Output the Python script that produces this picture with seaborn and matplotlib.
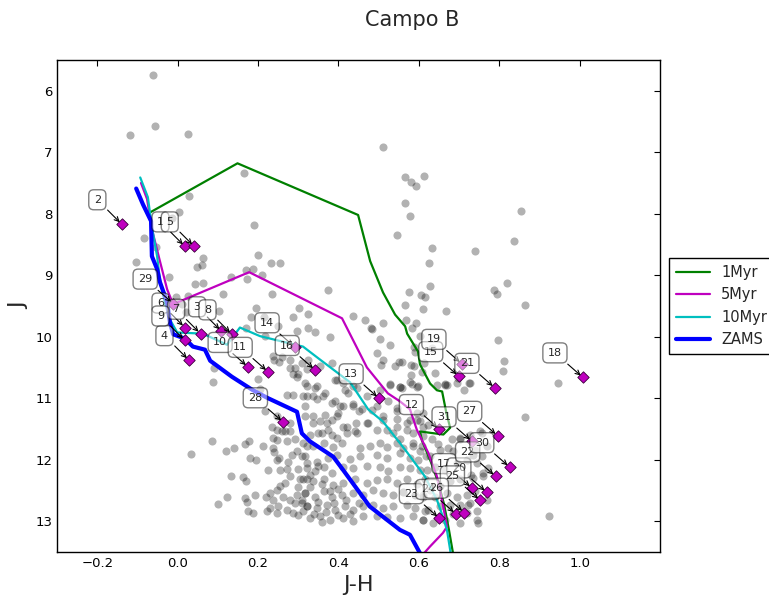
"""
Campo B - colour-magnitude diagram (J vs J-H) with isochrones
"""

import pandas as pd
import matplotlib
matplotlib.use("Agg")
import matplotlib.pyplot as plt
import seaborn as sns

sns.set_style("white")

# isochrones, (J-H, J) vertices
iso_1myr = [(-0.069, 7.98), (0.149, 7.18), (0.449, 8.02), (0.479, 8.77), (0.511, 9.28),
            (0.541, 9.64), (0.566, 9.83), (0.571, 9.95), (0.598, 10.24), (0.603, 10.45),
            (0.628, 10.76), (0.645, 10.87), (0.658, 10.89), (0.668, 11.22), (0.678, 11.48),
            (0.661, 11.59), (0.603, 11.54), (0.608, 11.69), (0.628, 12.00), (0.648, 12.36),
            (0.663, 12.73), (0.675, 13.14), (0.688, 13.63)]
iso_5myr = [(-0.091, 7.50), (-0.076, 7.76), (-0.064, 8.25), (-0.044, 8.77), (-0.026, 9.23),
            (-0.011, 9.47), (0.178, 8.95), (0.409, 9.70), (0.471, 10.50), (0.523, 10.92),
            (0.553, 11.05), (0.578, 11.18), (0.595, 11.51), (0.623, 11.88), (0.645, 12.27),
            (0.660, 12.73), (0.670, 13.09), (0.660, 13.19), (0.628, 13.41), (0.598, 13.63)]
iso_10myr = [(-0.093, 7.41), (-0.074, 7.73), (-0.064, 8.21), (-0.051, 8.69), (-0.044, 9.07),
             (-0.031, 9.47), (-0.019, 9.72), (-0.001, 9.93), (0.063, 9.95), (0.123, 10.13),
             (0.155, 9.85), (0.205, 9.99), (0.312, 10.16), (0.354, 10.37), (0.429, 10.74),
             (0.474, 11.18), (0.511, 11.38), (0.571, 11.88), (0.615, 12.27), (0.645, 12.65),
             (0.660, 12.93), (0.670, 13.14), (0.682, 13.63)]
zams = [(-0.103, 7.59), (-0.086, 7.85), (-0.066, 8.12), (-0.064, 8.69), (-0.051, 8.90),
        (-0.044, 9.11), (-0.026, 9.44), (-0.019, 9.77), (-0.011, 9.96), (0.018, 10.03),
        (0.038, 10.16), (0.068, 10.21), (0.081, 10.39), (0.135, 10.65), (0.185, 10.86),
        (0.222, 10.99), (0.297, 11.22), (0.309, 11.57), (0.329, 11.70), (0.387, 11.95),
        (0.411, 12.16), (0.478, 12.76), (0.553, 13.14), (0.578, 13.22), (0.603, 13.52)]

# candidate members
star_ids = list(range(1, 32))
star_jh = [0.018, -0.139, 0.109, 0.028, 0.041, 0.018, 0.057, 0.135, 0.018, 0.175,
           0.225, 0.651, 0.501, 0.292, 0.699, 0.342, 0.732, 1.008, 0.707, 0.769,
           0.789, 0.791, 0.651, 0.692, 0.753, 0.713, 0.796, 0.263, -0.011, 0.826, 0.732]
star_j = [8.53, 8.17, 9.91, 10.38, 8.53, 9.85, 9.95, 9.96, 10.06, 10.49,
          10.57, 11.50, 11.00, 10.17, 10.64, 10.54, 12.46, 10.66, 10.44, 12.53,
          10.83, 12.27, 12.95, 12.88, 12.66, 12.86, 11.61, 11.39, 9.46, 12.12, 11.70]

# field stars (J-H, J), grouped by area of the diagram
field_upper_left = [
    (-0.061, 5.74), (-0.119, 6.72), (-0.056, 6.58), (0.025, 6.71), (0.165, 7.34), (0.028, 7.71),
    (0.003, 7.97), (-0.014, 8.07), (0.191, 8.19), (-0.084, 8.40), (-0.054, 8.54), (0.063, 8.72),
    (0.048, 8.87), (0.199, 8.67), (0.232, 8.80), (0.254, 8.80), (-0.104, 8.79), (-0.021, 9.03),
    (0.063, 9.13), (0.169, 8.92), (0.172, 9.06), (0.132, 9.03), (0.234, 9.31), (-0.004, 9.36),
    (0.025, 9.34), (0.010, 9.47), (0.020, 9.60), (0.301, 9.54), (0.194, 9.54), (0.182, 9.68),
    (0.216, 9.68), (0.102, 9.58), (0.324, 9.63), (0.286, 9.68), (0.324, 9.86), (0.090, 10.50),
    (0.088, 10.74), (0.199, 10.69), (0.204, 10.85), (0.241, 10.38), (0.251, 10.41), (0.279, 10.50),
    (0.291, 10.50), (0.296, 10.66), (0.321, 10.53), (0.324, 10.37)]
field_upper_right = [
    (0.510, 6.92), (0.565, 7.40), (0.580, 7.48), (0.594, 7.55), (0.614, 7.39), (0.565, 7.83),
    (0.577, 8.04), (0.547, 8.34), (0.853, 7.96), (0.836, 8.45), (0.632, 8.55), (0.739, 8.60),
    (0.625, 8.80), (0.627, 9.17), (0.575, 9.27), (0.605, 9.32), (0.615, 9.35), (0.565, 9.48),
    (0.610, 9.55), (0.667, 9.58), (0.786, 9.24), (0.794, 9.30), (0.819, 9.13), (0.864, 9.49),
    (0.567, 9.72), (0.594, 9.78), (0.584, 9.86), (0.482, 9.86), (0.602, 9.99), (0.796, 10.05),
    (0.495, 10.27), (0.587, 10.16), (0.590, 10.24), (0.507, 10.46), (0.550, 10.41), (0.557, 10.41),
    (0.580, 10.46), (0.587, 10.47), (0.612, 10.43), (0.609, 10.58), (0.580, 10.62), (0.577, 10.74),
    (0.595, 10.81), (0.528, 10.77), (0.552, 10.81), (0.811, 10.39), (0.809, 10.55), (0.724, 10.75),
    (0.697, 10.67), (0.947, 10.76), (0.664, 10.77), (0.669, 10.79), (0.864, 11.30), (0.713, 10.87),
    (0.925, 12.92)]
field_middle = [
    (0.061, 8.84), (0.043, 9.15), (0.112, 9.31), (0.188, 8.90), (0.209, 9.00), (0.375, 9.24),
    (0.170, 9.85), (0.217, 9.99), (0.250, 9.83), (0.296, 9.91), (0.342, 9.93), (0.379, 10.00),
    (0.437, 9.67), (0.466, 9.72), (0.483, 9.87), (0.512, 9.77), (0.503, 10.04), (0.528, 10.13),
    (0.512, 10.37), (0.541, 10.48), (0.238, 10.32), (0.259, 10.33), (0.280, 10.37), (0.288, 10.61),
    (0.300, 10.61), (0.309, 10.42), (0.354, 10.48), (0.383, 10.42), (0.392, 10.70), (0.346, 10.80),
    (0.321, 10.80), (0.338, 10.97), (0.317, 11.13), (0.362, 10.97), (0.383, 11.07), (0.425, 10.91),
    (0.404, 11.13), (0.437, 11.13), (0.450, 11.21), (0.474, 11.40), (0.396, 11.29), (0.371, 11.40),
    (0.338, 11.29), (0.358, 11.56), (0.383, 11.59), (0.412, 11.46), (0.446, 11.56), (0.247, 11.29),
    (0.234, 11.46), (0.259, 11.54), (0.280, 11.40), (0.217, 11.21), (0.313, 10.97), (0.271, 10.94),
    (0.288, 10.94)]
field_green_side = [
    (0.632, 10.18), (0.640, 10.59), (0.645, 10.78), (0.557, 10.83), (0.503, 10.86), (0.524, 11.05),
    (0.545, 11.21), (0.578, 11.35), (0.570, 11.51), (0.595, 11.24), (0.603, 11.37), (0.624, 11.43),
    (0.632, 11.67), (0.607, 11.78), (0.586, 11.73), (0.553, 11.67), (0.545, 11.46), (0.520, 11.51),
    (0.512, 11.29), (0.495, 11.13), (0.470, 10.97), (0.446, 10.83), (0.416, 10.86), (0.396, 10.70),
    (0.752, 11.54), (0.702, 11.67), (0.682, 11.67), (0.649, 11.75), (0.673, 11.81), (0.736, 11.92),
    (0.756, 11.94), (0.773, 12.13), (0.759, 12.27), (0.736, 12.30)]
field_lower_left = [
    (0.086, 11.70), (0.033, 11.90), (0.120, 11.85), (0.140, 11.81), (0.168, 11.75), (0.178, 11.69),
    (0.180, 11.97), (0.195, 12.01), (0.213, 11.78), (0.238, 11.64), (0.247, 11.51), (0.238, 11.81),
    (0.240, 11.88), (0.253, 11.97), (0.247, 12.00), (0.226, 12.16), (0.132, 12.26), (0.163, 12.28),
    (0.170, 12.35), (0.193, 12.57), (0.168, 12.62), (0.122, 12.60), (0.100, 12.72), (0.172, 12.69),
    (0.176, 12.84), (0.187, 12.87), (0.220, 12.60), (0.230, 12.54), (0.223, 12.84), (0.230, 12.79),
    (0.255, 12.42), (0.267, 12.38), (0.280, 12.27), (0.271, 12.15), (0.275, 12.03), (0.255, 12.16),
    (0.284, 11.92), (0.296, 11.86), (0.309, 11.94), (0.271, 11.70), (0.292, 11.67), (0.247, 11.68),
    (0.280, 11.54), (0.267, 11.54), (0.248, 12.49), (0.238, 12.65), (0.250, 12.76), (0.263, 12.60),
    (0.280, 12.65), (0.296, 12.57), (0.292, 12.70), (0.271, 12.81), (0.247, 12.87), (0.288, 12.87),
    (0.313, 12.84), (0.321, 12.76), (0.309, 12.70), (0.317, 12.54), (0.321, 12.32), (0.304, 12.32),
    (0.300, 12.15), (0.321, 12.05), (0.321, 11.78)]
field_core = [
    (0.317, 10.75), (0.342, 10.83), (0.367, 10.91), (0.412, 10.76), (0.437, 10.80), (0.528, 10.78),
    (0.553, 10.81), (0.582, 10.77), (0.599, 10.80), (0.321, 10.97), (0.346, 11.02), (0.392, 11.05),
    (0.412, 11.13), (0.437, 11.10), (0.458, 11.18), (0.483, 11.19), (0.545, 11.16), (0.317, 11.29),
    (0.338, 11.40), (0.354, 11.37), (0.367, 11.27), (0.383, 11.35), (0.400, 11.24), (0.421, 11.46),
    (0.445, 11.40), (0.470, 11.41), (0.512, 11.35), (0.545, 11.33), (0.570, 11.40), (0.595, 11.35),
    (0.611, 11.46), (0.329, 11.59), (0.350, 11.56), (0.375, 11.51), (0.396, 11.65), (0.421, 11.56),
    (0.441, 11.54), (0.495, 11.51), (0.537, 11.56), (0.586, 11.57), (0.611, 11.62), (0.313, 11.73),
    (0.338, 11.78), (0.363, 11.73), (0.387, 11.79), (0.408, 11.73), (0.454, 11.81), (0.479, 11.77),
    (0.503, 11.73), (0.520, 11.79), (0.545, 11.72), (0.561, 11.81), (0.586, 11.78), (0.603, 11.86),
    (0.317, 11.94), (0.346, 12.03), (0.375, 11.97), (0.396, 11.92), (0.429, 11.98), (0.454, 11.94),
    (0.495, 11.92), (0.520, 11.97), (0.553, 11.89), (0.578, 11.97), (0.599, 12.00), (0.619, 11.94),
    (0.321, 12.13), (0.342, 12.19), (0.363, 12.11), (0.383, 12.22), (0.412, 12.11), (0.437, 12.14),
    (0.470, 12.10), (0.503, 12.12), (0.524, 12.19), (0.553, 12.11), (0.578, 12.14), (0.603, 12.16),
    (0.313, 12.32), (0.338, 12.35), (0.363, 12.31), (0.387, 12.41), (0.412, 12.38), (0.441, 12.32),
    (0.470, 12.38), (0.495, 12.33), (0.520, 12.31), (0.545, 12.38), (0.570, 12.32), (0.595, 12.39),
    (0.615, 12.32), (0.317, 12.54), (0.342, 12.60), (0.363, 12.51), (0.383, 12.60), (0.408, 12.57),
    (0.437, 12.54), (0.462, 12.58), (0.487, 12.49), (0.512, 12.54), (0.537, 12.57), (0.561, 12.53),
    (0.590, 12.57), (0.611, 12.60), (0.321, 12.76), (0.346, 12.79), (0.371, 12.73), (0.392, 12.81),
    (0.416, 12.76), (0.437, 12.82), (0.462, 12.76), (0.487, 12.73), (0.512, 12.79), (0.537, 12.76),
    (0.570, 12.73), (0.590, 12.79), (0.615, 12.84), (0.329, 12.95), (0.354, 12.92), (0.379, 12.98),
    (0.412, 12.95), (0.437, 13.00), (0.462, 12.92), (0.495, 12.92), (0.520, 12.93), (0.553, 12.95),
    (0.586, 12.92), (0.611, 12.98),
    (0.330, 12.45), (0.350, 12.68), (0.370, 12.85), (0.390, 12.70), (0.360, 12.40), (0.400, 12.90),
    (0.340, 12.88), (0.420, 12.65), (0.380, 12.50), (0.310, 12.65), (0.300, 12.90), (0.360, 13.02),
    (0.400, 12.48), (0.330, 12.25), (0.450, 12.70), (0.430, 12.88), (0.350, 12.10), (0.300, 12.45)]
field_lower_right = [
    (0.665, 10.78), (0.694, 10.75), (0.727, 10.75), (0.611, 11.24), (0.702, 11.65), (0.727, 11.59),
    (0.756, 11.56), (0.769, 11.78), (0.740, 11.84), (0.719, 12.00), (0.686, 11.86), (0.653, 11.84),
    (0.628, 11.94), (0.640, 12.11), (0.620, 12.16), (0.665, 12.16), (0.694, 12.05), (0.744, 12.05),
    (0.760, 12.22), (0.731, 12.24), (0.702, 12.32), (0.678, 12.35), (0.653, 12.43), (0.628, 12.49),
    (0.611, 12.57), (0.640, 12.60), (0.669, 12.54), (0.694, 12.60), (0.719, 12.57), (0.740, 12.51),
    (0.769, 12.65), (0.727, 12.70), (0.702, 12.73), (0.678, 12.73), (0.653, 12.76), (0.624, 12.81),
    (0.611, 12.98), (0.636, 13.03), (0.665, 12.98), (0.686, 12.89), (0.719, 12.87), (0.744, 12.84),
    (0.748, 13.03), (0.702, 13.03), (0.744, 12.98), (0.723, 12.73)]


def to_frame(pairs):
    return pd.DataFrame(pairs, columns=['jh', 'j'])


field = pd.concat([to_frame(p) for p in (field_upper_left, field_upper_right, field_middle,
                                          field_green_side, field_lower_left, field_core,
                                          field_lower_right)], ignore_index=True)
members = pd.DataFrame({'id': star_ids, 'jh': star_jh, 'j': star_j})

fig = plt.figure(figsize=(7.69, 5.98), dpi=100)
ax = fig.add_axes([57 / 769, 46 / 598, 603 / 769, 492 / 598])

sns.scatterplot(data=field, x='jh', y='j', color='black', alpha=0.3, s=34,
                linewidth=0, ax=ax, legend=False, zorder=1)

curves = [(iso_1myr, '1Myr', 'g', 1.6), (iso_5myr, '5Myr', 'm', 1.6),
          (iso_10myr, '10Myr', 'c', 1.6), (zams, 'ZAMS', 'b', 3.0)]
for pts, name, col, lw in curves:
    sns.lineplot(data=to_frame(pts), x='jh', y='j', sort=False, estimator=None,
                 color=col, lw=lw, label=name, ax=ax, zorder=2)

sns.scatterplot(data=members, x='jh', y='j', marker='D', color='m', s=34,
                edgecolor='#3a003a', linewidth=0.6, ax=ax, legend=False, zorder=3)

# numbered labels with arrows pointing at each member
for sid, x, y in zip(star_ids, star_jh, star_j):
    ax.annotate(str(sid), xy=(x, y), xytext=(-15, 14),
                textcoords='offset points', ha='right', va='bottom', fontsize=8,
                bbox=dict(boxstyle='round,pad=0.45', fc='white', ec='black', alpha=0.5),
                arrowprops=dict(arrowstyle='->', color='black', lw=0.8,
                                connectionstyle='arc3,rad=0'),
                zorder=5)

ax.set_xlim(-0.3, 1.2)
ax.set_ylim(13.5, 5.5)
ax.set_xticks([-0.2, 0.0, 0.2, 0.4, 0.6, 0.8, 1.0])
ax.set_yticks([6, 7, 8, 9, 10, 11, 12, 13])
ax.tick_params(direction='in', top=True, right=True, length=4, width=0.8,
               labelsize=9.5, colors='black')
for sp in ax.spines.values():
    sp.set_color('black')
    sp.set_linewidth(1.0)

ax.set_xlabel('J-H', fontsize=16)
ax.set_ylabel('J', fontsize=16)

ax.legend(loc='center left', bbox_to_anchor=(1.0, 0.5), fontsize=10.5, frameon=True,
          fancybox=False, edgecolor='black', framealpha=1, handlelength=2.3,
          borderaxespad=0.6, borderpad=0.5)

fig.text(412 / 769, 1 - 20 / 598, 'Campo B', ha='center', va='center', fontsize=15)

fig.savefig('out.png', dpi=100)
plt.close(fig)
